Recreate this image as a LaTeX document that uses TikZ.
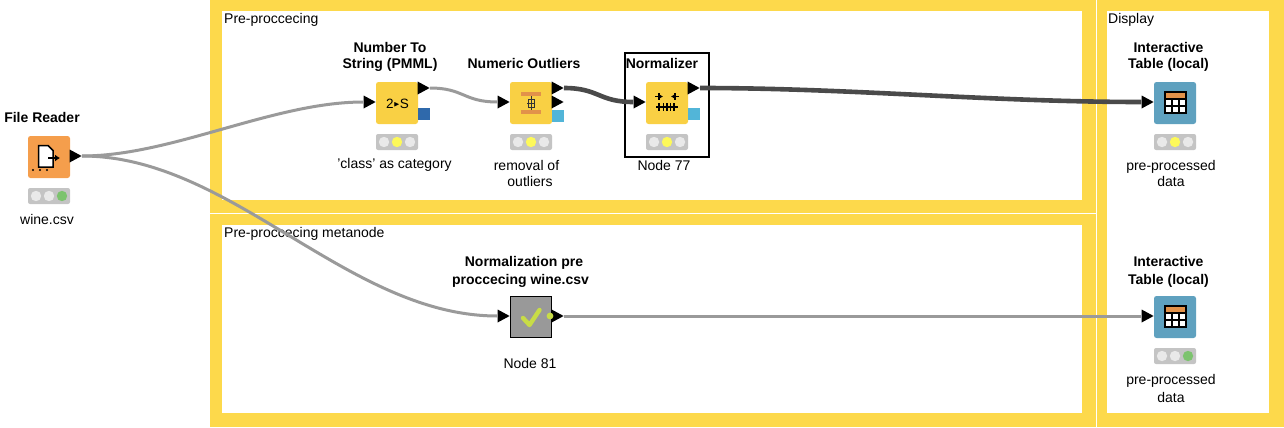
\documentclass[tikz,border=0pt]{standalone}
\usepackage{amssymb}
\usepackage{fontspec}
\setmainfont{Liberation Sans}
\usetikzlibrary{arrows.meta,positioning,calc,shapes.geometric}
\definecolor{Frame}{HTML}{FDD94B}
\definecolor{Reader}{HTML}{F59E4C}
\definecolor{Manip}{HTML}{F9D044}
\definecolor{View}{HTML}{5FA1BF}
\definecolor{Lamp}{HTML}{C4C4C4}
\definecolor{LampOff}{HTML}{E9E9E9}
\definecolor{LampOn}{HTML}{FDF95A}
\definecolor{LampGo}{HTML}{7CC36E}
\definecolor{Wire}{HTML}{9A9A9A}
\definecolor{WireHot}{HTML}{4A4A4A}
\definecolor{PortDark}{HTML}{2F69AB}
\definecolor{PortLight}{HTML}{52B5D8}
\definecolor{Accent}{HTML}{E2924A}
\definecolor{Tick}{HTML}{C8DC46}
\tikzset{
  icon/.style={draw=none,inner sep=0pt,minimum size=42pt,rounded corners=2.5pt},
  lamp/.style={draw=none,fill=Lamp,inner sep=0pt,minimum width=42pt,minimum height=16pt,rounded corners=2pt},
  porttip/.style={isosceles triangle,isosceles triangle apex angle=60,isosceles triangle stretches,
    fill=black,draw=none,inner sep=0pt,minimum width=13pt,minimum height=12pt},
  title/.style={font=\fontsize{14}{16}\selectfont\bfseries,align=center,inner sep=0pt},
  note/.style={font=\fontsize{14}{16}\selectfont,align=center,inner sep=0pt},
  wire/.style={draw=Wire,line width=3pt},
  hotwire/.style={draw=WireHot,line width=4.6pt},
}
\begin{document}
\begin{tikzpicture}[x=1pt,y=-1pt]
  \useasboundingbox (0,0) rectangle (1284,428);
  % yellow frames
  \fill[Frame] (210,0) rectangle (1095.5,213);
  \fill[Frame] (210,214) rectangle (1095.5,427);
  \fill[Frame] (1096.5,0) rectangle (1284,427);
  \fill[white] (222,11) rectangle (1082,200);
  \fill[white] (222,225) rectangle (1082,413);
  \fill[white] (1107,11) rectangle (1269,413);
  \node[note,anchor=west] (framePre) at (224,19.5) {Pre-proccecing};
  \node[note,anchor=west] (frameMeta) at (224,233.5) {Pre-proccecing metanode};
  \node[note,anchor=west] (frameShow) at (1108,19.5) {Display};

  % node bodies
  \node[icon,fill=Reader] (reader) at (49,157) {};
  \node[icon,fill=Manip] (toString) at (397,103) {};
  \node[icon,fill=Manip] (outliers) at (531,103) {};
  \node[icon,fill=Manip] (normalizer) at (667,103) {};
  \node[icon,fill=View] (tableTop) at (1175,103) {};
  \node[icon,fill=View] (tableLow) at (1175,317) {};
  \node[draw=black,line width=1pt,fill=black!40,inner sep=0pt,minimum size=41pt] (meta) at (531,317) {};
  \node[draw=black,line width=1.5pt,inner sep=0pt,minimum width=84pt,minimum height=104pt] (selected) at (667,105) {};

  % lamps
  \foreach \n/\x/\y/\a/\b/\c in {lampReader/49/196/LampOff/LampOff/LampGo,
      lampString/397/142/LampOff/LampOn/LampOff,lampOutliers/531/142/LampOff/LampOn/LampOff,
      lampNorm/667/142/LampOff/LampOn/LampOff,lampTop/1175/142/LampOff/LampOn/LampOff,
      lampLow/1175/356/LampOff/LampOff/LampGo}{
    \node[lamp] (\n) at (\x,\y) {};
    \fill[\a] ($(\n)+(-13,0)$) circle (5.2);
    \fill[\b] (\n) circle (5.2);
    \fill[\c] ($(\n)+(13,0)$) circle (5.2);
  }

  % data ports
  \fill[PortDark] (418,108) rectangle (430,120);
  \fill[PortLight] (552,110) rectangle (564,122);
  \fill[PortLight] (688,108) rectangle (700,120);

  % connectors
  \node[porttip,anchor=apex] (readerOut) at (82,156) {};
  \node[porttip,anchor=apex] (stringIn) at (376,102) {};
  \node[porttip,anchor=apex] (stringOut) at (430,88) {};
  \node[porttip,anchor=apex] (outliersIn) at (510,102) {};
  \node[porttip,anchor=apex] (outliersOut) at (564,88) {};
  \node[porttip,anchor=apex] (outliersModel) at (564,102) {};
  \node[porttip,anchor=apex] (normIn) at (646,102) {};
  \node[porttip,anchor=apex] (normOut) at (700,88) {};
  \node[porttip,anchor=apex] (topIn) at (1154,102) {};
  \node[porttip,anchor=apex] (metaIn) at (510,316) {};
  \node[porttip,anchor=apex] (metaOut) at (564,316) {};
  \node[porttip,anchor=apex] (lowIn) at (1154,316) {};
  \draw[wire] (readerOut.apex) .. controls +(90,0) and +(-90,0) .. (stringIn.west);
  \draw[wire] (readerOut.apex) .. controls +(150,0) and +(-150,0) .. (metaIn.west);
  \draw[wire] (stringOut.apex) .. controls +(34,0) and +(-34,0) .. (outliersIn.west);
  \draw[wire] (metaOut.apex) -- (lowIn.west);
  \draw[hotwire] (outliersOut.apex) .. controls +(35,0) and +(-35,0) .. (normIn.west);
  \draw[hotwire] (normOut.apex) .. controls +(150,0) and +(-150,0) .. (topIn.west);
  \fill[Tick] (550,316) circle (3.4);

  % glyphs inside the nodes
  \fill[white,draw=black,line width=1.5pt] (38.5,145.5) -- (48,145.5) -- (53,150.5) -- (53,167) -- (38.5,167) -- cycle;
  \draw[black,line width=1.6pt,-{Latex[length=5pt,width=7pt]}] (48,158) -- (60,158);
  \foreach \x in {33,40,47}{\fill[black] (\x,170) circle (1.2);}
  \node[inner sep=0pt,font=\fontsize{13.5}{13.5}\selectfont] (glyphString) at (397.5,104) {2\raisebox{2pt}{\fontsize{7}{7}\selectfont$\blacktriangleright$}S};
  \fill[Accent] (521,92) rectangle (541,96);
  \fill[Accent] (521,110) rectangle (541,114);
  \draw[black!80,line width=.8pt] (531,96) -- (531,110) (527,103) -- (535,103);
  \draw[black!80,line width=.8pt] (528,99) rectangle (534,107);
  \draw[black,line width=1.1pt] (656,107) -- (678,107);
  \foreach \x in {659,663.5,667,670.5,674}{\draw[black,line width=1.1pt] (\x,103) -- (\x,111);}
  \draw[black,line width=1.2pt] (659,93) -- (659,100) (675,93) -- (675,100);
  \draw[black,line width=1.2pt,-{Latex[length=3.5pt,width=4.5pt]}] (655,96.5) -- (663,96.5);
  \draw[black,line width=1.2pt,-{Latex[length=3.5pt,width=4.5pt]}] (679,96.5) -- (671,96.5);
  \foreach \y in {0,214}{
    \fill[white] (1165,92+\y) rectangle (1186,113+\y);
    \fill[Accent] (1165,92+\y) rectangle (1186,99+\y);
    \draw[black,line width=1.3pt] (1165,92+\y) rectangle (1186,113+\y);
    \draw[black,line width=1.3pt] (1165,99+\y) -- (1186,99+\y) (1165,106+\y) -- (1186,106+\y);
    \draw[black,line width=1.3pt] (1172,99+\y) -- (1172,113+\y) (1179,99+\y) -- (1179,113+\y);
  }
  \draw[line width=4.4pt,draw=Tick,line cap=round,line join=round] (523,318) -- (529.5,325) -- (539.5,310);

  % labels
  \node[title] (lblReader) at (42,117) {File Reader};
  \node[title] (lblString) at (390,56.5) {Number To\\String (PMML)};
  \node[title] (lblOutliers) at (524,63) {Numeric Outliers};
  \node[title] (lblNorm) at (662,63) {Normalizer};
  \node[title] (lblTop) at (1168.5,56.5) {Interactive\\Table (local)};
  \node[title,font=\fontsize{14}{18}\selectfont\bfseries] (lblLow) at (1168.5,271.5) {Interactive\\Table (local)};
  \node[title,font=\fontsize{14}{18}\selectfont\bfseries] (lblMeta) at (524,271.5) {Normalization pre\\proccecing wine.csv\hspace*{7pt}};
  \node[note] (noteReader) at (47,219) {wine.csv};
  \node[note] (noteString) at (394.5,165) {'class' as category};
  \node[note] (noteOutliers) at (530,173) {removal of\hspace*{7pt}\\outliers};
  \node[note] (noteNorm) at (664,165) {Node 77};
  \node[note] (noteTop) at (1171,173) {pre-processed\\data};
  \node[note,font=\fontsize{14}{18}\selectfont] (noteLow) at (1171,388) {pre-processed\\data};
  \node[note] (noteMeta) at (530,363) {Node 81};
\end{tikzpicture}
\end{document}
